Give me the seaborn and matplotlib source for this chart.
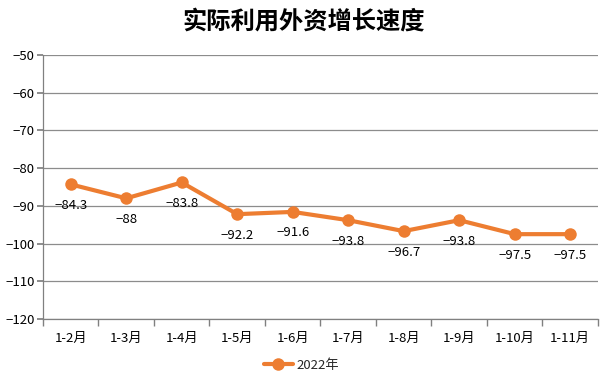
import matplotlib
matplotlib.use("Agg")
import matplotlib.pyplot as plt
import seaborn as sns
import pandas as pd
from matplotlib.ticker import FixedLocator, MultipleLocator

categories = ["1-2月", "1-3月", "1-4月", "1-5月", "1-6月", "1-7月", "1-8月", "1-9月", "1-10月", "1-11月"]
values = [-84.3, -88, -83.8, -92.2, -91.6, -93.8, -96.7, -93.8, -97.5, -97.5]
labels = ["−84.3", "−88", "−83.8", "−92.2", "−91.6", "−93.8", "−96.7", "−93.8", "−97.5", "−97.5"]
series_name = "2022年"
title = "实际利用外资增长速度"

sns.set_theme(style="white")
plt.rcParams['font.family'] = ['Noto Sans CJK SC', 'DejaVu Sans']
plt.rcParams['axes.unicode_minus'] = True

df = pd.DataFrame({"month": categories, "value": values, "series": series_name})

fig = plt.figure(figsize=(6.07, 3.85), dpi=100)
ax = fig.add_axes([0.0708, 0.1714, 0.9143, 0.6857])
color = "#ED7D31"
sns.lineplot(data=df, x="month", y="value", hue="series", palette=[color], sort=False,
             marker="o", markersize=9, linewidth=3, markeredgewidth=0, ax=ax)

ax.set_ylim(-120, -50)
ax.set_xlim(-0.5, len(categories) - 0.5)
ax.yaxis.set_major_locator(MultipleLocator(10))
ax.grid(axis="y", color="#8c8c8c", linewidth=0.9)
ax.set_axisbelow(True)
ax.set_xlabel("")
ax.set_ylabel("")
for s in ["top", "right"]:
    ax.spines[s].set_visible(False)
ax.spines["left"].set_color("#808080")
ax.spines["bottom"].set_color("#808080")
ax.spines["left"].set_linewidth(0.9)
ax.spines["bottom"].set_linewidth(0.9)

ax.tick_params(axis="y", which="major", left=True, length=4, color="#808080", labelsize=9.5, pad=2, labelcolor="#000000")
ax.tick_params(axis="x", which="major", bottom=False, length=0, labelsize=9.5, pad=9, labelcolor="#000000")
ax.xaxis.set_minor_locator(FixedLocator([i - 0.5 for i in range(len(categories) + 1)]))
ax.tick_params(axis="x", which="minor", bottom=True, length=5, color="#808080")

for i, (v, t) in enumerate(zip(values, labels)):
    ax.annotate(t, (i, v), xytext=(0, -21), textcoords="offset pixels",
                ha="center", va="center", fontsize=9.5, color="#000000")

ax.legend(loc="center", bbox_to_anchor=(0.497, 1 - 365 / 385), bbox_transform=fig.transFigure,
          frameon=False, fontsize=9.5, handlelength=2.2, handletextpad=0.3)

fig.text(0.5, 1 - 22 / 385, title, ha="center", va="center", fontsize=17.5, fontweight="bold", color="#000000")
fig.savefig("out.png", dpi=100)
